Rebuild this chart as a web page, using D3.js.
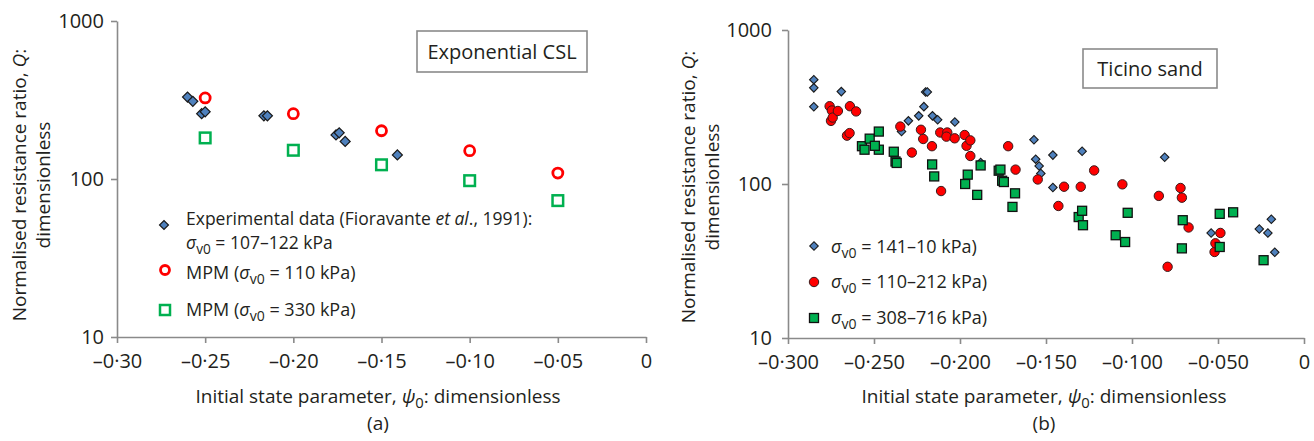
<!DOCTYPE html>
<html>
<head>
<meta charset="utf-8">
<script src="https://cdn.jsdelivr.net/npm/d3@7"></script>
<style>
body { margin: 0; background: #fff; }
svg text { font-family: "Open Sans", "Noto Sans", sans-serif; fill: #231f20; }
.axis path, .axis line { stroke: #8a8a8a; stroke-width: 1.6; }
.axis text { font-size: 20px; fill: #231f20; font-family: "Open Sans", sans-serif; }
</style>
</head>
<body>
<svg id="chart" width="1314" height="441"></svg>
<script>
// # DATA
// # ------------------------------
// # ------------------------------

// ## panel (a) : exponential CSL  [psi0, Q]
var exp_data = [
  [-0.260, 330], [-0.257, 310], [-0.252, 259], [-0.250, 266],
  [-0.2167, 251], [-0.2147, 251], [-0.1758, 190], [-0.174, 196],
  [-0.1706, 173], [-0.141, 142]
];
var mpm_110 = [[-0.25, 326], [-0.20, 259], [-0.15, 202], [-0.10, 151], [-0.05, 109]];
var mpm_330 = [[-0.25, 182], [-0.20, 152], [-0.15, 123], [-0.10, 97.6], [-0.05, 73]];

// ## panel (b) : Ticino sand  [psi0, Q]
var ticino_low = [
  [-0.285, 476], [-0.285, 421], [-0.285, 317], [-0.269, 398], [-0.234, 219],
  [-0.230, 257], [-0.224, 277], [-0.221, 318], [-0.220, 396], [-0.219, 396],
  [-0.216, 277], [-0.213, 261], [-0.203, 253], [-0.188, 138], [-0.157, 194],
  [-0.156, 145], [-0.154, 131], [-0.153, 117], [-0.146, 154], [-0.146, 95],
  [-0.129, 163], [-0.081, 149], [-0.054, 48], [-0.026, 51], [-0.021, 48],
  [-0.019, 59], [-0.017, 36]
];
var ticino_mid = [
  [-0.2758, 320], [-0.2745, 300], [-0.2750, 257], [-0.2740, 270], [-0.2710, 298],
  [-0.2640, 320], [-0.2604, 296], [-0.2657, 206], [-0.2642, 214], [-0.2347, 236],
  [-0.2280, 160], [-0.2227, 225], [-0.2214, 196], [-0.2163, 176], [-0.2115, 216],
  [-0.2110, 90], [-0.2074, 216], [-0.2079, 203], [-0.2031, 198], [-0.1973, 208],
  [-0.1962, 177], [-0.1940, 192], [-0.1940, 152], [-0.1720, 176], [-0.1677, 124],
  [-0.1548, 107], [-0.1428, 72], [-0.1395, 96], [-0.1298, 96], [-0.1220, 122.5],
  [-0.1056, 99.5], [-0.0844, 83.7], [-0.0718, 94.2], [-0.0710, 81.5], [-0.0671, 52.2],
  [-0.0793, 29], [-0.0520, 36.2], [-0.0515, 41.2], [-0.0486, 48.1]
];
var ticino_high = [
  [-0.2570, 176], [-0.2555, 167], [-0.2525, 197], [-0.2472, 219], [-0.2472, 167],
  [-0.2495, 177], [-0.2385, 162], [-0.2375, 140], [-0.2368, 137], [-0.2162, 134],
  [-0.2150, 112], [-0.1955, 115], [-0.1970, 100], [-0.1900, 85], [-0.1880, 132],
  [-0.1775, 122], [-0.1765, 124], [-0.1755, 105], [-0.1745, 103], [-0.1680, 87],
  [-0.1695, 71], [-0.1310, 61], [-0.1290, 67], [-0.1285, 54], [-0.1095, 46.5],
  [-0.1040, 42], [-0.1025, 65], [-0.0710, 38.2], [-0.0705, 58.2], [-0.0490, 39],
  [-0.0490, 64], [-0.0412, 65.5], [-0.0235, 32]
];

// ## ticks
var q_ticks  = [10, 100, 1000];
var xa_ticks = [-0.30, -0.25, -0.20, -0.15, -0.10, -0.05, 0];
var xb_ticks = [-0.30, -0.25, -0.20, -0.15, -0.10, -0.05, 0];

// # MISC
// # ------------------------------
// # ------------------------------
var svg = d3.select("#chart");

var fmt_psi = function(digits) {
  return function(d) {
    if (d === 0) return "0";
    return "\u2013" + d3.format("." + digits + "f")(-d).replace(".", "\u00b7");
  }
}

// ## add_sigma : italic sigma with v0 subscript, then rest of the text
var add_sigma = function(text, before, after) {
  if (before) text.append("tspan").text(before);
  text.append("tspan").style("font-style", "italic").text("\u03c3");
  text.append("tspan").attr("dy", 5).style("font-size", "0.78em").text("v0");
  text.append("tspan").attr("dy", -5).text(after);
}

var diamond = function(size) {
  return d3.symbol().type(d3.symbolSquare).size(size)();
}

// ## draw_panel
// # ------------------------------
var draw_panel = function(p) {

  var x = d3.scaleLinear().domain([-0.30, 0]).range([p.x0, p.x1]);
  var y = d3.scaleLog().domain([10, 1000]).range([p.y0, p.y1]);

  var g = svg.append("g");

  g.append("g")
    .attr("class", "axis")
    .attr("transform", "translate(0," + p.y0 + ")")
    .call(d3.axisBottom(x).tickValues(p.xticks).tickFormat(fmt_psi(p.digits))
      .tickSize(6).tickSizeOuter(0).tickPadding(11));

  g.append("g")
    .attr("class", "axis")
    .attr("transform", "translate(" + p.x0 + ",0)")
    .call(d3.axisLeft(y).tickValues(q_ticks).tickFormat(d3.format("d"))
      .tickSize(6).tickSizeOuter(0).tickPadding(p.ypad));

  // # y label
  var yl = g.append("text")
    .attr("transform", "translate(" + p.ylx + "," + p.yly + ") rotate(-90)")
    .attr("text-anchor", "middle")
    .style("font-size", "19px");
  yl.append("tspan").text("Normalised resistance ratio, ");
  yl.append("tspan").style("font-style", "italic").text("Q");
  yl.append("tspan").text(":");

  g.append("text")
    .attr("transform", "translate(" + (p.ylx + 24) + "," + p.yly + ") rotate(-90)")
    .attr("text-anchor", "middle")
    .style("font-size", "19px")
    .text("dimensionless");

  // # x label
  var xl = g.append("text")
    .attr("x", p.xlx).attr("y", 403)
    .attr("text-anchor", "middle")
    .style("font-size", "19px");
  xl.append("tspan").text("Initial state parameter, ");
  xl.append("tspan").style("font-style", "italic").text("\u03c8");
  xl.append("tspan").attr("dy", 5).style("font-size", "0.78em").text("0");
  xl.append("tspan").attr("dy", -5).text(": dimensionless");

  g.append("text")
    .attr("x", p.xlx).attr("y", 430)
    .attr("text-anchor", "middle")
    .style("font-size", "19px")
    .text(p.tag);

  // # title box
  g.append("rect")
    .attr("x", p.box[0]).attr("y", p.box[1])
    .attr("width", p.box[2]).attr("height", p.box[3])
    .attr("fill", "#fff").attr("stroke", "#8a8a8a").attr("stroke-width", 1.6);
  g.append("text")
    .attr("x", p.box[0] + p.box[2] / 2).attr("y", p.box[1] + p.box[3] / 2 + 7)
    .attr("text-anchor", "middle")
    .style("font-size", "20px")
    .text(p.title);

  return {g: g, x: x, y: y};
}

// # PANEL (a)
// # ------------------------------
// # ------------------------------
var pa = draw_panel({
  x0: 117, x1: 646, y0: 337, y1: 21, xticks: xa_ticks, digits: 2, ypad: 7,
  ylx: 26, yly: 185, xlx: 378, tag: "(a)",
  box: [417, 31, 170, 41], title: "Exponential CSL"
});

pa.g.selectAll(".exp").data(exp_data).enter().append("path")
  .attr("d", diamond(50))
  .attr("transform", function(d) { return "translate(" + pa.x(d[0]) + "," + pa.y(d[1]) + ") rotate(45)" })
  .attr("fill", "#4f81bd").attr("stroke", "#1a1a1a").attr("stroke-width", 1.2);

pa.g.selectAll(".m110").data(mpm_110).enter().append("circle")
  .attr("cx", function(d) { return pa.x(d[0]) })
  .attr("cy", function(d) { return pa.y(d[1]) })
  .attr("r", 5)
  .attr("fill", "none").attr("stroke", "#ff0000").attr("stroke-width", 2.8);

pa.g.selectAll(".m330").data(mpm_330).enter().append("rect")
  .attr("x", function(d) { return pa.x(d[0]) - 5.3 })
  .attr("y", function(d) { return pa.y(d[1]) - 5.3 })
  .attr("width", 10.6).attr("height", 10.6)
  .attr("fill", "none").attr("stroke", "#00b050").attr("stroke-width", 2.5);

// ## legend (a)
pa.g.append("path").attr("d", diamond(40))
  .attr("transform", "translate(164,225) rotate(45)")
  .attr("fill", "#4f81bd").attr("stroke", "#1a1a1a").attr("stroke-width", 1.2);
var la1 = pa.g.append("text").attr("x", 186).attr("y", 224.5).style("font-size", "17.5px");
la1.append("tspan").text("Experimental data (Fioravante ");
la1.append("tspan").style("font-style", "italic").text("et al");
la1.append("tspan").text("., 1991):");
var la2 = pa.g.append("text").attr("x", 186).attr("y", 248.5).style("font-size", "17.5px");
add_sigma(la2, "", " = 107\u2013122 kPa");

pa.g.append("circle").attr("cx", 165).attr("cy", 270).attr("r", 4.5)
  .attr("fill", "none").attr("stroke", "#ff0000").attr("stroke-width", 2.8);
var la3 = pa.g.append("text").attr("x", 186).attr("y", 279).style("font-size", "18px");
add_sigma(la3, "MPM (", " = 110 kPa)");

pa.g.append("rect").attr("x", 160).attr("y", 305).attr("width", 10).attr("height", 10)
  .attr("fill", "none").attr("stroke", "#00b050").attr("stroke-width", 2.5);
var la4 = pa.g.append("text").attr("x", 186).attr("y", 316).style("font-size", "18px");
add_sigma(la4, "MPM (", " = 330 kPa)");

// # PANEL (b)
// # ------------------------------
// # ------------------------------
var pb = draw_panel({
  x0: 788, x1: 1304, y0: 338, y1: 30, xticks: xb_ticks, digits: 3, ypad: 10,
  ylx: 695, yly: 187, xlx: 1044, tag: "(b)",
  box: [1083, 49, 134, 39], title: "Ticino sand"
});

pb.g.selectAll(".tl").data(ticino_low).enter().append("path")
  .attr("d", diamond(36))
  .attr("transform", function(d) { return "translate(" + pb.x(d[0]) + "," + pb.y(d[1]) + ") rotate(45)" })
  .attr("fill", "#4f81bd").attr("stroke", "#1a1a1a").attr("stroke-width", 1.1);

pb.g.selectAll(".tm").data(ticino_mid).enter().append("circle")
  .attr("cx", function(d) { return pb.x(d[0]) })
  .attr("cy", function(d) { return pb.y(d[1]) })
  .attr("r", 4.7)
  .attr("fill", "#ff0000").attr("stroke", "#3a1a1a").attr("stroke-width", 1);

pb.g.selectAll(".th").data(ticino_high).enter().append("rect")
  .attr("x", function(d) { return pb.x(d[0]) - 4.5 })
  .attr("y", function(d) { return pb.y(d[1]) - 4.5 })
  .attr("width", 9).attr("height", 9)
  .attr("fill", "#00b050").attr("stroke", "#111").attr("stroke-width", 1.3);

// ## legend (b)
pb.g.append("path").attr("d", diamond(36))
  .attr("transform", "translate(814,246) rotate(45)")
  .attr("fill", "#4f81bd").attr("stroke", "#1a1a1a").attr("stroke-width", 1.1);
var lb1 = pb.g.append("text").attr("x", 831).attr("y", 253).style("font-size", "18px");
add_sigma(lb1, "", " = 141\u201310 kPa)");

pb.g.append("circle").attr("cx", 814).attr("cy", 282).attr("r", 4.7)
  .attr("fill", "#ff0000").attr("stroke", "#3a1a1a").attr("stroke-width", 1);
var lb2 = pb.g.append("text").attr("x", 831).attr("y", 288).style("font-size", "18px");
add_sigma(lb2, "", " = 110\u2013212 kPa)");

pb.g.append("rect").attr("x", 809.5).attr("y", 313.5).attr("width", 9).attr("height", 9)
  .attr("fill", "#00b050").attr("stroke", "#111").attr("stroke-width", 1.3);
var lb3 = pb.g.append("text").attr("x", 831).attr("y", 324).style("font-size", "18px");
add_sigma(lb3, "", " = 308\u2013716 kPa)");
</script>
</body>
</html>
